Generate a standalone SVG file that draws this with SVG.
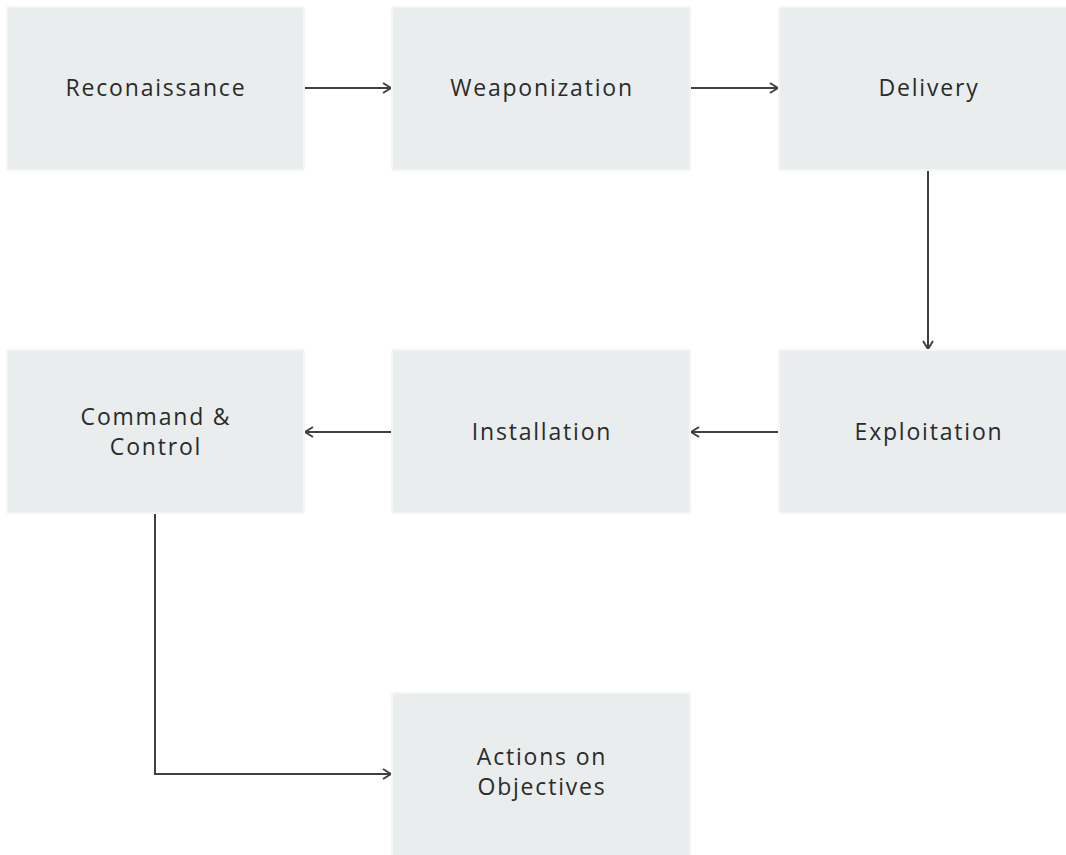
<svg xmlns="http://www.w3.org/2000/svg" width="1066" height="855" viewBox="0 0 1066 855">
<style>
.box{fill:#e9edee;stroke:#f4f5f6;stroke-width:2}
.t{font-family:"Open Sans","Liberation Sans",sans-serif;font-size:23px;letter-spacing:1.8px;fill:#2b2b2b;text-anchor:middle;dominant-baseline:central}
.c{fill:none;stroke:#404040;stroke-width:2}
</style>
<defs>
<marker id="ah" viewBox="0 0 12 12" refX="11" refY="6" markerWidth="12" markerHeight="12" markerUnits="userSpaceOnUse" orient="auto">
<path d="M3,1 L11,6 L3,11" fill="none" stroke="#404040" stroke-width="2"/>
</marker>
</defs>
<rect width="1066" height="855" fill="#ffffff"/>
<g id="connectors">
<path class="c" d="M305,88 H391" marker-end="url(#ah)"/>
<path class="c" d="M691,88 H778" marker-end="url(#ah)"/>
<path class="c" d="M928,171 V349" marker-end="url(#ah)"/>
<path class="c" d="M778,432 H691" marker-end="url(#ah)"/>
<path class="c" d="M391,432 H305" marker-end="url(#ah)"/>
<path class="c" d="M155,514 V774 H391" marker-end="url(#ah)"/>
</g>
<g id="n1"><rect class="box" x="7" y="7" width="297" height="163" rx="2"/><text class="t" x="156" y="87">Reconaissance</text></g>
<g id="n2"><rect class="box" x="392" y="7" width="298" height="163" rx="2"/><text class="t" x="542" y="87">Weaponization</text></g>
<g id="n3"><rect class="box" x="779" y="7" width="298" height="163" rx="2"/><text class="t" x="929" y="87">Delivery</text></g>
<g id="n4"><rect class="box" x="779" y="350" width="298" height="163" rx="2"/><text class="t" x="929" y="431">Exploitation</text></g>
<g id="n5"><rect class="box" x="392" y="350" width="298" height="163" rx="2"/><text class="t" x="542" y="431">Installation</text></g>
<g id="n6"><rect class="box" x="7" y="350" width="297" height="163" rx="2"/><text class="t" x="156" y="416">Command &amp;</text><text class="t" x="156" y="446">Control</text></g>
<g id="n7"><rect class="box" x="392" y="693" width="298" height="170" rx="2"/><text class="t" x="542" y="756">Actions on</text><text class="t" x="542" y="786">Objectives</text></g>
</svg>
